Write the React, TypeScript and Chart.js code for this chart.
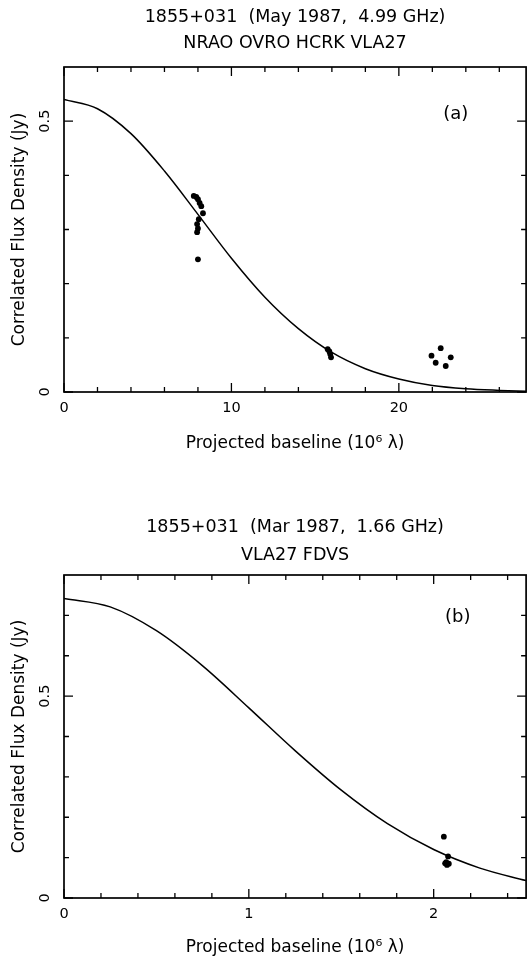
import React, { useEffect, useRef } from 'react';
import { Chart, registerables } from 'chart.js';

Chart.register(...registerables);
Chart.defaults.color = '#000';

const FONT = "'DejaVu Sans', sans-serif";

const X_TITLE = 'Projected baseline (10\u2076 \u03BB)';
const Y_TITLE = 'Correlated Flux Density (Jy)';

// ---------- Panel (a) ----------
const A_TITLE = ['1855+031  (May 1987,  4.99 GHz)', 'NRAO OVRO HCRK VLA27'];
const A_CURVE_X = [0, 2, 4, 6, 8, 10, 12, 14, 16, 18, 20, 22, 24, 26, 27.6];
const A_CURVE_Y = [0.54, 0.523, 0.477, 0.408, 0.328, 0.247, 0.175, 0.117, 0.073, 0.043, 0.024, 0.012, 0.006, 0.003, 0.0013];
const A_POINTS_X = [7.75, 7.9, 8.0, 8.1, 8.2, 8.3, 8.05, 7.95, 8.0, 7.95, 8.0, 15.75, 15.85, 15.9, 15.95, 22.5, 21.95, 23.1, 22.2, 22.8];
const A_POINTS_Y = [0.362, 0.36, 0.356, 0.349, 0.343, 0.33, 0.319, 0.31, 0.302, 0.295, 0.245, 0.079, 0.075, 0.07, 0.064, 0.081, 0.067, 0.064, 0.054, 0.048];
const A_X_TICKS = [0, 2, 4, 6, 8, 10, 12, 14, 16, 18, 20, 22, 24, 26];
const A_X_MAJOR = [0, 10, 20];
const A_Y_TICKS = [0, 0.1, 0.2, 0.3, 0.4, 0.5];
const A_Y_MAJOR = [0, 0.5];

// ---------- Panel (b) ----------
const B_TITLE = ['1855+031  (Mar 1987,  1.66 GHz)', 'VLA27 FDVS'];
const B_CURVE_X = [0, 0.25, 0.5, 0.75, 1, 1.25, 1.5, 1.75, 2, 2.25, 2.5];
const B_CURVE_Y = [0.742, 0.721, 0.662, 0.575, 0.471, 0.365, 0.267, 0.184, 0.12, 0.074, 0.043];
const B_POINTS_X = [2.055, 2.078, 2.062, 2.072, 2.082, 2.068];
const B_POINTS_Y = [0.152, 0.103, 0.086, 0.082, 0.085, 0.089];
const B_X_TICKS = [0, 0.2, 0.4, 0.6, 0.8, 1, 1.2, 1.4, 1.6, 1.8, 2, 2.2, 2.4];
const B_X_MAJOR = [0, 1, 2];
const B_Y_TICKS = [0, 0.1, 0.2, 0.3, 0.4, 0.5, 0.6, 0.7];
const B_Y_MAJOR = [0, 0.5];

type PanelCfg = {
  title: string[];
  titleLH: number;
  titlePadTop: number;
  titlePadBottom: number;
  curveX: number[];
  curveY: number[];
  ptsX: number[];
  ptsY: number[];
  xMax: number;
  yMax: number;
  xStep: number;
  xAxisH: number;
  xTitlePadBottom: number;
  xTicks: number[];
  xMajor: number[];
  yTicks: number[];
  yMajor: number[];
  label: string;
  labelX: number;
  labelY: number;
};

const PANEL_A: PanelCfg = {
  title: A_TITLE, titleLH: 26, titlePadTop: 4, titlePadBottom: 11,
  curveX: A_CURVE_X, curveY: A_CURVE_Y, ptsX: A_POINTS_X, ptsY: A_POINTS_Y,
  xMax: 27.6, yMax: 0.6, xStep: 10, xAxisH: 88, xTitlePadBottom: 25.8,
  xTicks: A_X_TICKS, xMajor: A_X_MAJOR, yTicks: A_Y_TICKS, yMajor: A_Y_MAJOR,
  label: '(a)', labelX: 23.4, labelY: 0.512,
};

const PANEL_B: PanelCfg = {
  title: B_TITLE, titleLH: 28, titlePadTop: 33, titlePadBottom: 6,
  curveX: B_CURVE_X, curveY: B_CURVE_Y, ptsX: B_POINTS_X, ptsY: B_POINTS_Y,
  xMax: 2.5, yMax: 0.8, xStep: 1, xAxisH: 62, xTitlePadBottom: 1.8,
  xTicks: B_X_TICKS, xMajor: B_X_MAJOR, yTicks: B_Y_TICKS, yMajor: B_Y_MAJOR,
  label: '(b)', labelX: 2.13, labelY: 0.694,
};

function framePlugin(p: PanelCfg) {
  return {
    id: 'frame',
    afterDraw(chart: any) {
      const { ctx, chartArea } = chart;
      const { left, right, top, bottom } = chartArea;
      const xs = chart.scales.x;
      const ys = chart.scales.y;
      ctx.save();
      ctx.strokeStyle = '#000';
      ctx.lineWidth = 1.7;
      ctx.strokeRect(left, top, right - left, bottom - top);
      ctx.lineWidth = 1.3;
      ctx.beginPath();
      for (const v of p.xTicks) {
        const px = xs.getPixelForValue(v);
        const len = p.xMajor.includes(v) ? 9 : 5;
        ctx.moveTo(px, bottom);
        ctx.lineTo(px, bottom - len);
        ctx.moveTo(px, top);
        ctx.lineTo(px, top + len);
      }
      for (const v of p.yTicks) {
        const py = ys.getPixelForValue(v);
        const len = p.yMajor.includes(v) ? 9 : 5;
        ctx.moveTo(left, py);
        ctx.lineTo(left + len, py);
        ctx.moveTo(right, py);
        ctx.lineTo(right - len, py);
      }
      ctx.stroke();
      ctx.fillStyle = '#000';
      ctx.font = `18px ${FONT}`;
      ctx.textAlign = 'center';
      ctx.textBaseline = 'middle';
      ctx.fillText(p.label, xs.getPixelForValue(p.labelX), ys.getPixelForValue(p.labelY));
      ctx.restore();
    },
  };
}

function buildConfig(p: PanelCfg): any {
  const curve = p.curveX.map((x, i) => ({ x, y: p.curveY[i] }));
  const pts = p.ptsX.map((x, i) => ({ x, y: p.ptsY[i] }));
  return {
    type: 'scatter',
    data: {
      datasets: [
        {
          data: pts,
          showLine: false,
          pointRadius: 2.9,
          pointHoverRadius: 2.9,
          pointBackgroundColor: '#000',
          pointBorderWidth: 0,
          backgroundColor: '#000',
          borderColor: '#000',
        },
        {
          data: curve,
          showLine: true,
          pointRadius: 0,
          pointHoverRadius: 0,
          borderColor: '#000',
          borderWidth: 1.5,
          cubicInterpolationMode: 'monotone',
          fill: false,
        },
      ],
    },
    options: {
      animation: false,
      responsive: false,
      devicePixelRatio: 1,
      events: [],
      layout: { padding: { left: 0, right: 1, top: 0, bottom: 0 } },
      plugins: {
        legend: { display: false },
        tooltip: { enabled: false },
        title: {
          display: true,
          text: p.title,
          fullSize: false,
          color: '#000',
          font: { family: FONT, size: 17.5, weight: 'normal', lineHeight: `${p.titleLH}px` },
          padding: { top: p.titlePadTop, bottom: p.titlePadBottom },
        },
      },
      scales: {
        x: {
          type: 'linear',
          position: 'bottom',
          min: 0,
          max: p.xMax,
          afterFit: (s: any) => { s.height = p.xAxisH; },
          grid: { display: false, drawTicks: false },
          border: { display: false },
          ticks: {
            stepSize: p.xStep,
            includeBounds: false,
            autoSkip: false,
            minRotation: 0,
            maxRotation: 0,
            padding: 7.5,
            color: '#000',
            font: { family: FONT, size: 14.5 },
          },
          title: {
            display: true,
            text: X_TITLE,
            color: '#000',
            font: { family: FONT, size: 17 },
            padding: { top: 0, bottom: p.xTitlePadBottom },
          },
        },
        y: {
          type: 'linear',
          position: 'left',
          min: 0,
          max: p.yMax,
          afterFit: (s: any) => { s.width = 64; },
          grid: { display: false, drawTicks: false },
          border: { display: false },
          ticks: {
            stepSize: 0.5,
            includeBounds: false,
            autoSkip: false,
            minRotation: 90,
            maxRotation: 90,
            crossAlign: 'center',
            padding: 7.5,
            color: '#000',
            font: { family: FONT, size: 14.5 },
          },
          title: {
            display: true,
            text: Y_TITLE,
            color: '#000',
            font: { family: FONT, size: 17 },
            padding: { top: 9.8, bottom: 0 },
          },
        },
      },
    },
    plugins: [framePlugin(p)],
  };
}

function Panel({ cfg }: { cfg: PanelCfg }) {
  const ref = useRef<HTMLCanvasElement>(null);
  useEffect(() => {
    const chart = new Chart(ref.current as HTMLCanvasElement, buildConfig(cfg));
    return () => chart.destroy();
  }, [cfg]);
  return (
    <canvas
      ref={ref}
      width={529}
      height={480}
      style={{ display: 'block', width: 529, height: 480 }}
    />
  );
}

export default function App() {
  return (
    <div
      style={{
        position: 'absolute',
        left: 0,
        top: 0,
        width: 529,
        height: 960,
        overflow: 'hidden',
        background: '#fff',
      }}
    >
      <Panel cfg={PANEL_A} />
      <Panel cfg={PANEL_B} />
    </div>
  );
}
